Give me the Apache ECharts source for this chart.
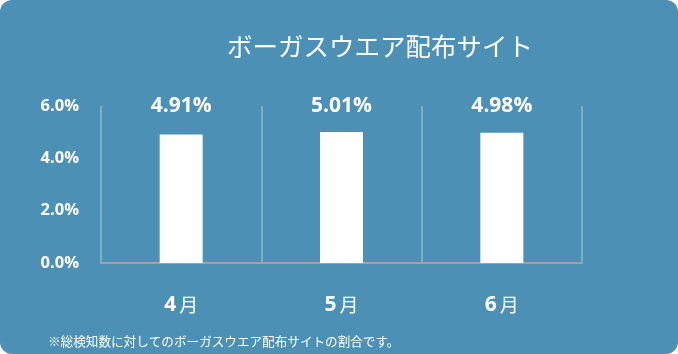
<!DOCTYPE html>
<html>
<head>
<meta charset="utf-8">
<script src="https://cdn.jsdelivr.net/npm/echarts@6/dist/echarts.min.js"></script>
<style>
  html, body { margin: 0; padding: 0; background: #ffffff; }
  #chart {
    width: 678px; height: 354px;
    background: #4c90b5;
    border-radius: 12px;
    overflow: hidden;
  }
</style>
</head>
<body>
<div id="chart"></div>
<script>
// data
var months = ['4月', '5月', '6月'];
var rates = [4.91, 5.01, 4.98];
var yTicks = [0, 2, 6]; // min, interval, max

var titleText = 'ボーガスウエア配布サイト';
var noteText = '※総検知数に対してのボーガスウエア配布サイトの割合です。';

var jp = '"Noto Sans CJK JP", "Noto Sans", sans-serif';
var num = '"Open Sans", "Noto Sans", sans-serif';

var chart = echarts.init(document.getElementById('chart'));

var option = {
  animation: false,
  title: {
    text: titleText,
    left: 375,
    top: 29,
    textAlign: 'center',
    textStyle: {
      color: '#ffffff',
      fontFamily: jp,
      fontSize: 25.5,
      fontWeight: 'normal'
    }
  },
  graphic: [{
    type: 'text',
    left: 48,
    top: 335,
    style: {
      text: noteText,
      fill: '#ffffff',
      font: '12.6px ' + jp
    }
  }],
  grid: {
    left: 101,
    right: 96,
    top: 106,
    bottom: 91
  },
  xAxis: {
    type: 'category',
    data: months,
    axisTick: { show: false },
    axisLine: {
      lineStyle: { color: '#a2a2a2', width: 2 }
    },
    splitLine: {
      show: true,
      lineStyle: { color: 'rgba(255,255,255,0.28)', width: 2 }
    },
    axisLabel: {
      margin: 32,
      formatter: function (v) {
        return '{n|' + v.replace('月', '') + '}{m|月}';
      },
      rich: {
        n: { color: '#fff', fontFamily: num, fontWeight: 'bold', fontSize: 21, lineHeight: 20, padding: [0, 3, 0, 0] },
        m: { color: '#fff', fontFamily: jp, fontSize: 19, lineHeight: 20 }
      }
    }
  },
  yAxis: {
    type: 'value',
    min: yTicks[0],
    max: yTicks[2],
    interval: yTicks[1],
    axisLine: { show: false },
    axisTick: { show: false },
    splitLine: { show: false },
    axisLabel: {
      margin: 22,
      color: '#ffffff',
      fontFamily: num,
      fontWeight: 'bold',
      fontSize: 16.5,
      formatter: function (v) { return v.toFixed(1) + '%'; }
    }
  },
  series: [{
    type: 'bar',
    data: rates,
    barWidth: 43,
    itemStyle: { color: '#ffffff' },
    markPoint: {
      symbol: 'circle',
      symbolSize: 0,
      silent: true,
      label: {
        show: true,
        position: 'inside',
        color: '#ffffff',
        fontFamily: num,
        fontWeight: 'bold',
        fontSize: 21,
        formatter: function (p) { return p.value.toFixed(2) + '%'; }
      },
      data: months.map(function (m, i) {
        return { coord: [m, yTicks[2]], value: rates[i] };
      })
    }
  }]
};

chart.setOption(option);
</script>
</body>
</html>
